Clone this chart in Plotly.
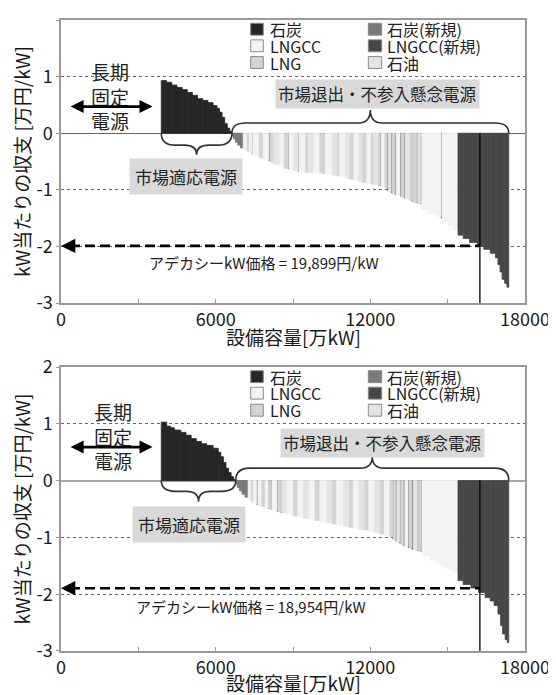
import numpy as np
import plotly.graph_objects as go
from plotly.subplots import make_subplots

# ---------------- data ----------------
FIXED_CAP = 3890          # 長期固定電源の設備容量 [万kW]
REQ_CAP = 16250           # 必要設備容量 [万kW]
PRICES = [19899, 18954]   # アデカシーkW価格 [円/kW]
Y_TICKS = [-3, -2, -1, 0, 1, 2]
Y_TICK_TEXT = ["-3", "-2", "-1", "0", "1", "2"]
X_TICKS = [0, 6000, 12000, 18000]

TYPE_NAMES = {"C": "石炭", "CN": "石炭(新規)", "GC": "LNGCC",
              "GCN": "LNGCC(新規)", "G": "LNG", "O": "石油"}
COLORS = {"C": "#262626", "CN": "#7a7a7a", "GC": "#f3f3f3",
          "GCN": "#474747", "G": "#d4d4d4", "O": "#e4e4e4"}
LEGEND_ORDER = ["C", "CN", "GC", "GCN", "G", "O"]

# ---- chart 1 ----
coal1_cap = [210, 200, 200, 200, 200, 200, 200, 200, 200, 200, 150, 100, 100, 100, 100, 100, 80]
coal1_val = [0.93, 0.90, 0.85, 0.81, 0.77, 0.72, 0.67, 0.61, 0.58, 0.54, 0.49, 0.44, 0.37, 0.28, 0.17, 0.09, 0.03]
neg1_type = ["CN", "CN", "CN", "CN", "CN", "GC", "G", "GC", "CN", "GC",
             "G", "GC", "CN", "G", "O", "GC", "G", "CN", "GC", "O",
             "CN", "GC", "G", "O", "GC", "G", "CN", "GC", "O", "G",
             "GC", "O", "G", "GC", "O", "G", "GC", "G", "O", "G",
             "CN", "GC", "G", "CN", "O", "CN", "G", "CN", "GC", "CN",
             "G", "CN", "O", "G", "CN", "G", "CN", "O", "CN", "GC",
             "GC", "GC", "CN", "GC", "GC", "GC",
             "GCN", "GCN", "GCN", "GCN", "GCN", "GCN", "GCN", "GCN", "GCN", "GCN", "GCN", "GCN"]
neg1_cap = [60, 80, 90, 100, 110, 150, 60, 120, 40, 250,
            120, 250, 50, 150, 200, 200, 150, 40, 200, 150,
            40, 250, 100, 200, 250, 150, 40, 300, 150, 100,
            250, 150, 150, 200, 150, 150, 200, 100, 150, 100,
            40, 150, 80, 50, 100, 50, 100, 50, 150, 50,
            100, 50, 150, 100, 40, 150, 50, 100, 50, 300,
            250, 200, 40, 250, 200, 170,
            200, 250, 300, 250, 250, 200, 100, 80, 80, 100, 90, 70]
neg1_val = [-0.05, -0.10, -0.16, -0.21, -0.26, -0.29, -0.32, -0.34, -0.36, -0.39,
            -0.43, -0.46, -0.48, -0.51, -0.55, -0.59, -0.62, -0.63, -0.65, -0.66,
            -0.67, -0.68, -0.69, -0.69, -0.70, -0.70, -0.71, -0.72, -0.74, -0.75,
            -0.77, -0.79, -0.81, -0.83, -0.85, -0.87, -0.89, -0.90, -0.91, -0.92,
            -0.93, -0.94, -0.96, -1.01, -1.03, -1.05, -1.07, -1.08, -1.10, -1.11,
            -1.13, -1.14, -1.16, -1.18, -1.20, -1.22, -1.23, -1.24, -1.25, -1.35,
            -1.42, -1.47, -1.50, -1.56, -1.63, -1.70,
            -1.80, -1.86, -1.93, -2.00, -2.05, -2.12, -2.20, -2.32, -2.45, -2.58, -2.65, -2.72]

# ---- chart 2 ----
coal2_cap = [210, 150, 150, 250, 200, 200, 200, 200, 200, 250, 200, 100, 100, 100, 100, 100, 100, 80]
coal2_val = [1.03, 0.96, 0.93, 0.89, 0.85, 0.80, 0.74, 0.69, 0.65, 0.62, 0.57, 0.50, 0.42, 0.32, 0.22, 0.14, 0.07, 0.02]
neg2_type = ["CN", "CN", "CN", "CN", "CN", "GC", "G", "GC", "CN", "GC",
             "G", "GC", "CN", "G", "CN", "GC", "CN", "G", "CN", "O",
             "GC", "G", "GC", "O", "GC", "G", "GC", "O", "G", "GC",
             "O", "G", "GC", "O", "G", "GC", "O", "G", "GC", "G",
             "CN", "G", "CN", "O", "CN", "G", "CN", "GC", "CN", "G",
             "CN", "O", "CN", "G", "CN",
             "GC", "GC", "GC", "GC", "GC", "GC",
             "GCN", "GCN", "GCN", "GCN", "GCN", "GCN", "GCN", "GCN", "GCN", "GCN", "GCN", "GCN"]
neg2_cap = [60, 80, 100, 120, 120, 120, 60, 150, 50, 150,
            100, 150, 40, 60, 40, 200, 40, 100, 40, 200,
            250, 150, 250, 200, 250, 150, 300, 200, 150, 300,
            200, 150, 250, 200, 150, 250, 200, 150, 250, 100,
            40, 80, 50, 100, 50, 100, 60, 120, 50, 100,
            60, 150, 50, 80, 50,
            300, 250, 250, 200, 200, 200,
            200, 300, 300, 250, 200, 150, 150, 100, 80, 100, 80, 60]
neg2_val = [-0.06, -0.12, -0.18, -0.24, -0.29, -0.33, -0.37, -0.40, -0.42, -0.44,
            -0.46, -0.48, -0.49, -0.50, -0.51, -0.52, -0.54, -0.55, -0.56, -0.57,
            -0.60, -0.62, -0.64, -0.66, -0.68, -0.70, -0.72, -0.74, -0.76, -0.78,
            -0.80, -0.82, -0.84, -0.86, -0.87, -0.89, -0.91, -0.94, -0.97, -0.99,
            -1.02, -1.04, -1.06, -1.08, -1.10, -1.12, -1.14, -1.16, -1.18, -1.19,
            -1.21, -1.22, -1.23, -1.24, -1.25,
            -1.32, -1.40, -1.46, -1.51, -1.56, -1.60,
            -1.76, -1.83, -1.89, -1.97, -2.06, -2.12, -2.20, -2.35, -2.55, -2.70, -2.80, -2.85]

CHARTS = [
    dict(caps=coal1_cap + neg1_cap, vals=coal1_val + neg1_val,
         types=["C"] * len(coal1_cap) + neg1_type, ncoal=len(coal1_cap), price=PRICES[0]),
    dict(caps=coal2_cap + neg2_cap, vals=coal2_val + neg2_val,
         types=["C"] * len(coal2_cap) + neg2_type, ncoal=len(coal2_cap), price=PRICES[1]),
]

# ---------------- layout helpers (positions only) ----------------
LAYOUT_POS = [
    dict(fixed_y=0.65, fixed_x=1900, arrow_y=0.47, exit_xy=(12288, 0.69),
         ub_body=0.18, ub_tip=0.41, lb_body=-0.21, lb_tip=-0.38,
         adapt_xy=(4857, -0.76), price_txt_xy=(7884, -2.29), leg_y=[1.837, 1.544, 1.249],
         xtitle_py=337, zl_color="#666666", zl_width=1.2),
    dict(fixed_y=0.78, fixed_x=2036, arrow_y=0.59, exit_xy=(12460, 0.66),
         ub_body=0.22, ub_tip=0.42, lb_body=-0.19, lb_tip=-0.37,
         adapt_xy=(4960, -0.77), price_txt_xy=(7362, -2.21), leg_y=[1.83, 1.54, 1.24],
         xtitle_py=683, zl_color="#a8a8a8", zl_width=2),
]

FONT = "Noto Sans CJK JP"
OFF = 8                      # page body margin of the browser
W, H = 556 - OFF, 695 - OFF
PLOT_L, PLOT_R = 61 - OFF, 525 - OFF
TOP_T, TOP_B = 20 - OFF, 303.3 - OFF
BOT_T, BOT_B = 367.3 - OFF, 651.5 - OFF
MT, ML = TOP_T, PLOT_L
MR = W - PLOT_R
MB = H - BOT_B
PH = H - MT - MB

fig = make_subplots(rows=2, cols=1)

shapes = []
annos = []


def brace(x1, x2, yb, yt, xref, yref):
    r_end = 540.0   # ~14 px in x
    r_tip = 470.0   # ~12 px in x
    xm = (x1 + x2) / 2.0
    p = (f"M {x1},0 Q {x1},{yb} {x1 + r_end},{yb} L {xm - r_tip},{yb} "
         f"Q {xm},{yb} {xm},{yt} Q {xm},{yb} {xm + r_tip},{yb} "
         f"L {x2 - r_end},{yb} Q {x2},{yb} {x2},0")
    return dict(type="path", path=p, xref=xref, yref=yref,
                line=dict(color="#333333", width=1.6))


for i, (ch, pos) in enumerate(zip(CHARTS, LAYOUT_POS)):
    row = i + 1
    xr = "x" if row == 1 else "x2"
    yr = "y" if row == 1 else "y2"
    caps = np.array(ch["caps"], dtype=float)
    vals = np.array(ch["vals"], dtype=float)
    types = np.array(ch["types"])
    left = FIXED_CAP + np.concatenate([[0.0], np.cumsum(caps)[:-1]])
    centers = left + caps / 2.0
    coal_end = FIXED_CAP + caps[:ch["ncoal"]].sum()
    all_end = FIXED_CAP + caps.sum()

    for t in LEGEND_ORDER:
        m = types == t
        if not m.any():
            continue
        fig.add_trace(go.Bar(x=centers[m], y=vals[m], width=caps[m], name=TYPE_NAMES[t],
                             marker=dict(color=COLORS[t], line=dict(width=0.8, color=COLORS[t])),
                             showlegend=False, hoverinfo="skip"), row=row, col=1)

    py = -ch["price"] / 10000.0
    # vertical line at required capacity
    shapes.append(dict(type="line", xref=xr, yref=yr, x0=REQ_CAP, x1=REQ_CAP, y0=0, y1=-3,
                       line=dict(color="#000000", width=1.3)))
    # dashed price line
    shapes.append(dict(type="line", xref=xr, yref=yr, x0=350, x1=REQ_CAP, y0=py, y1=py,
                       line=dict(color="#000000", width=2.6, dash="10px,5px")))
    annos.append(dict(x=0, y=py, ax=420, ay=py, xref=xr, yref=yr, axref=xr, ayref=yr,
                      text="", showarrow=True, arrowhead=2, arrowsize=1.1, arrowwidth=2.6,
                      arrowcolor="#000000"))
    annos.append(dict(x=pos["price_txt_xy"][0], y=pos["price_txt_xy"][1], xref=xr, yref=yr,
                      text=f"アデカシーkW価格 = {ch['price']:,}円/kW", showarrow=False,
                      font=dict(family=FONT, size=15, color="#222222")))
    # 長期固定電源
    annos.append(dict(x=pos["fixed_x"], y=pos["fixed_y"], xref=xr, yref=yr,
                      text="長期<br>固定<br>電源", showarrow=False,
                      font=dict(family=FONT, size=19, color="#222222")))
    annos.append(dict(x=3550, y=pos["arrow_y"], ax=316, ay=pos["arrow_y"], xref=xr, yref=yr,
                      axref=xr, ayref=yr, text="", showarrow=True, arrowhead=2,
                      arrowside="end+start", arrowsize=1.0, arrowwidth=2.6, arrowcolor="#000000"))
    # braces
    shapes.append(brace(coal_end, all_end, pos["ub_body"], pos["ub_tip"], xr, yr))
    shapes.append(brace(FIXED_CAP, coal_end, pos["lb_body"], pos["lb_tip"], xr, yr))
    # label boxes
    annos.append(dict(x=pos["exit_xy"][0], y=pos["exit_xy"][1], xref=xr, yref=yr,
                      text="市場退出・不参入懸念電源", showarrow=False, bgcolor="#d9d9d9",
                      borderpad=2, font=dict(family=FONT, size=16.5, color="#222222")))
    annos.append(dict(x=pos["adapt_xy"][0], y=pos["adapt_xy"][1], xref=xr, yref=yr,
                      text="市場適応電源", showarrow=False, bgcolor="#d9d9d9",
                      borderpad=5, font=dict(family=FONT, size=17, color="#222222")))
    # manual legend (2 columns x 3 rows)
    col_x = [(7359, 7848, 8019), (11921, 12441, 12569)]
    for k, t in enumerate(LEGEND_ORDER):
        c = k % 2
        rr = k // 2
        yc = pos["leg_y"][rr]
        x0, x1, xt = col_x[c]
        shapes.append(dict(type="rect", xref=xr, yref=yr, x0=x0, x1=x1, y0=yc - 0.105, y1=yc + 0.105,
                           fillcolor=COLORS[t], line=dict(color="#8a8a8a", width=1)))
        annos.append(dict(x=xt, y=yc, xref=xr, yref=yr, text=TYPE_NAMES[t], showarrow=False,
                          xanchor="left", yanchor="middle",
                          font=dict(family=FONT, size=16, color="#222222")))
    # x-axis title
    annos.append(dict(x=0.5, y=(H - MB - (pos["xtitle_py"] - OFF)) / PH, xref="paper", yref="paper",
                      text="設備容量[万kW]", showarrow=False, yanchor="middle",
                      font=dict(family=FONT, size=19, color="#1a1a1a")))

top_dom = [(H - MB - TOP_B) / PH, 1.0]
bot_dom = [0.0, (H - MB - BOT_T) / PH]

axis_x = dict(range=[0, 18000], tickvals=X_TICKS, tickformat="d",
              ticks="inside", ticklen=4, tickcolor="#999999", automargin=False,
              minor=dict(tick0=0, dtick=3000, ticks="inside", ticklen=4, tickcolor="#999999"),
              showline=True, mirror=True, linecolor="#9a9a9a", linewidth=1.5, showgrid=False,
              zeroline=False, tickfont=dict(family=FONT, size=18, color="#1a1a1a"))
axis_y = dict(range=[-3, 2], tickvals=Y_TICKS, ticktext=Y_TICK_TEXT, ticks="outside", ticklen=3,
              tickcolor="#999999", automargin=False,
              showline=True, mirror=True, linecolor="#9a9a9a", linewidth=1.5,
              showgrid=True, gridcolor="#666666", gridwidth=0.8, griddash="dot",
              zeroline=True,
              tickfont=dict(family=FONT, size=18, color="#1a1a1a"),
              title=dict(text="kW当たりの収支 [万円/kW]", font=dict(family=FONT, size=19, color="#1a1a1a"),
                         standoff=4))

fig.update_layout(
    width=W, height=H, margin=dict(l=ML, r=MR, t=MT, b=MB, autoexpand=False),
    paper_bgcolor="white", plot_bgcolor="white", barmode="overlay",
    showlegend=False, shapes=shapes, annotations=annos,
    font=dict(family=FONT),
    xaxis=dict(axis_x, domain=[0, 1], anchor="y"),
    yaxis=dict(axis_y, domain=top_dom, anchor="x",
               zerolinecolor=LAYOUT_POS[0]["zl_color"], zerolinewidth=LAYOUT_POS[0]["zl_width"]),
    xaxis2=dict(axis_x, domain=[0, 1], anchor="y2"),
    yaxis2=dict(axis_y, domain=bot_dom, anchor="x2",
                zerolinecolor=LAYOUT_POS[1]["zl_color"], zerolinewidth=LAYOUT_POS[1]["zl_width"]),
)

fig.write_html("out.html")
